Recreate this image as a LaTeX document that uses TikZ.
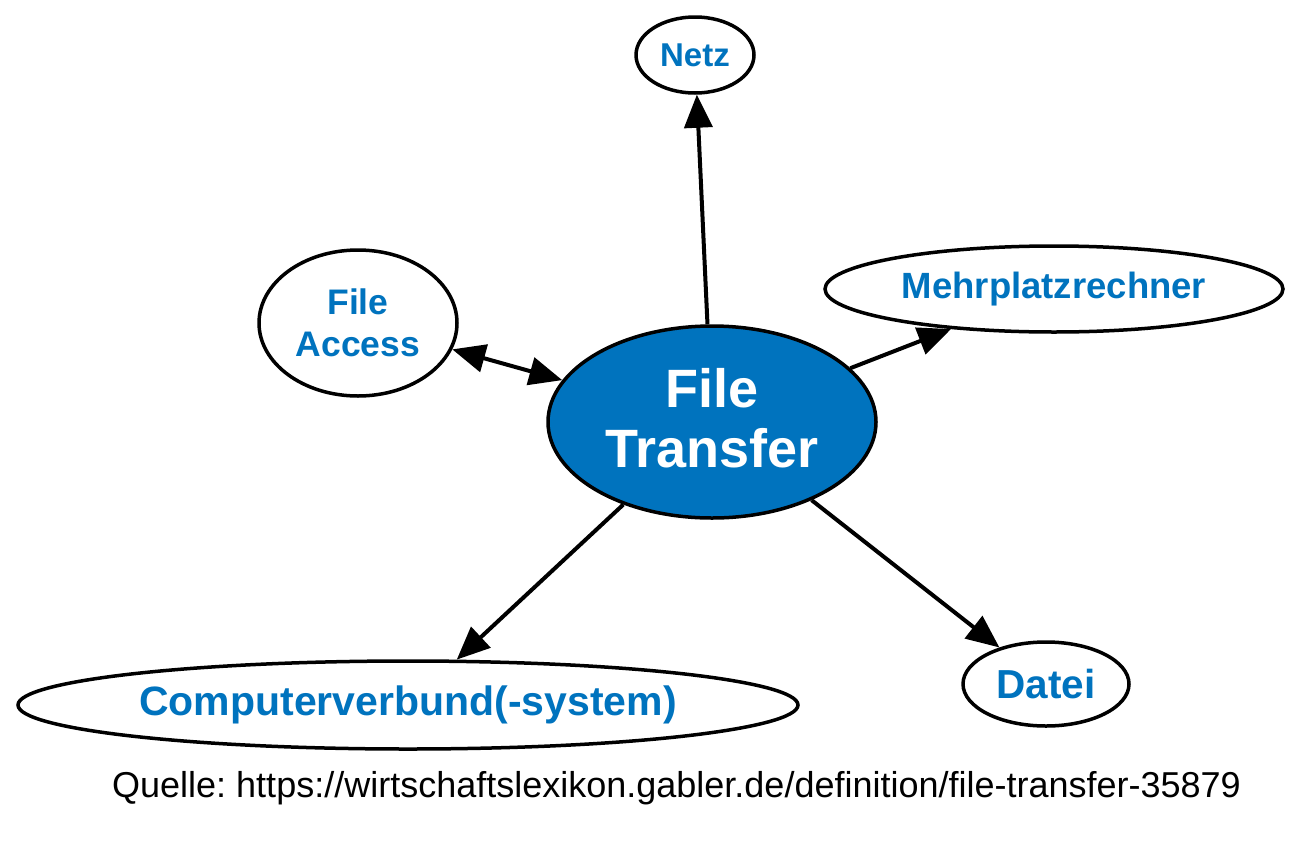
\documentclass[tikz,border=0pt]{standalone}
\usepackage{fontspec}
\setmainfont{Liberation Sans}
\usetikzlibrary{shapes.geometric,arrows.meta}
\definecolor{gblue}{RGB}{0,115,190}
\frenchspacing
\begin{document}
\begin{tikzpicture}[x=1pt,y=-1pt,
  bub/.style={ellipse,draw=black,line width=3.5pt,fill=white,inner sep=0pt,text=gblue,align=center},
  tip/.tip={Triangle[length=33pt,width=28pt]},
  conn/.style={line width=4pt,-tip},
  dconn/.style={line width=4pt,tip-tip},
]
\useasboundingbox (0,0) rectangle (1300,846);
\node[bub,fill=gblue,text=white,minimum width=328pt,minimum height=192pt,
  font=\fontsize{54}{60}\selectfont\bfseries] (ft) at (712,422) {\raisebox{9pt}{File}\\\raisebox{9pt}{Transfer}};
\node[bub,minimum width=198pt,minimum height=146pt,font=\fontsize{35.5}{42}\selectfont\bfseries] (fa) at (358,323) {File\\Access};
\node[bub,minimum width=118pt,minimum height=76pt,font=\fontsize{33}{40}\selectfont\bfseries] (netz) at (695,55) {Netz};
\node[bub,minimum width=458pt,minimum height=86pt,font=\fontsize{36.5}{42}\selectfont\bfseries] (mehr) at (1054,289) {Mehrplatzrechner};
\node[bub,minimum width=780pt,minimum height=88pt,font=\fontsize{41}{46}\selectfont\bfseries] (comp) at (408,705) {Computerverbund(-system)};
\node[bub,minimum width=166pt,minimum height=84pt,font=\fontsize{40.5}{46}\selectfont\bfseries] (datei) at (1046,684) {Datei};
\draw[conn] (ft) -- (netz);
\draw[dconn] (fa) -- (ft);
\draw[conn] (ft) -- (mehr);
\draw[conn] (ft) -- (comp);
\draw[conn] (ft) -- (datei);
\node[anchor=base west,inner sep=0pt,font=\fontsize{36}{40}\selectfont] (src) at (112,797) {Quelle: https://wirtschaftslexikon.gabler.de/definition/file-transfer-35879};
\end{tikzpicture}
\end{document}
